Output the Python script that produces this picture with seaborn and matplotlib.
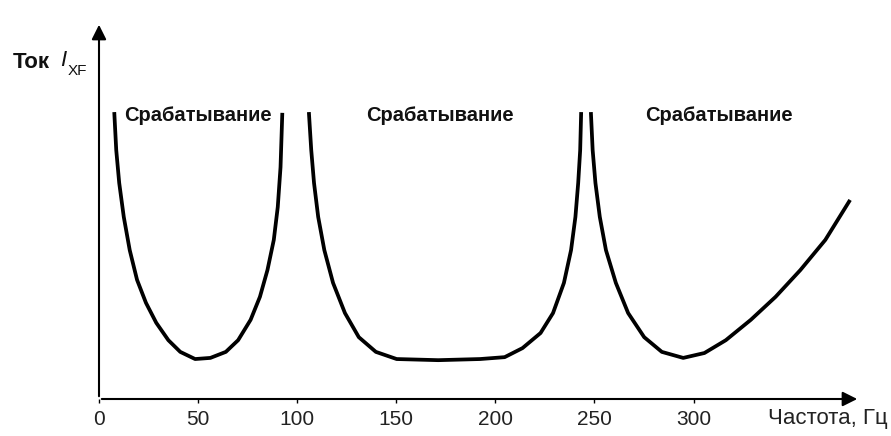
import matplotlib
matplotlib.use('Agg')
import matplotlib.pyplot as plt
import numpy as np
import pandas as pd
import seaborn as sns

# frequency (Hz) and current (arbitrary units, 0..100)
freq_1 = [7.7, 8.7, 10.2, 12.5, 15.5, 19.2, 23.7, 28.9, 35.0, 41.0, 48.5,
          56.2, 64.0, 70.2, 76.5, 81.2, 85.0, 88.2, 90.2, 91.6, 92.5]
curr_1 = [76.1, 66.0, 57.3, 48.3, 39.5, 31.6, 25.5, 20.2, 15.6, 12.5, 10.6,
          10.9, 12.5, 15.6, 21.0, 27.1, 34.2, 42.2, 50.9, 61.5, 75.9]

freq_2 = [105.9, 107.1, 108.5, 110.6, 113.7, 118.1, 124.1, 131.1, 139.7, 150.2, 171.2,
          192.3, 204.7, 213.7, 222.8, 229.1, 234.6, 238.2, 240.4, 241.8, 242.8, 243.3]
curr_2 = [76.1, 66.0, 57.3, 48.3, 39.5, 30.8, 22.8, 16.4, 12.5, 10.6, 10.3,
          10.6, 11.1, 13.5, 17.5, 22.8, 30.8, 39.5, 48.3, 57.3, 66.0, 76.1]

freq_3 = [248.2, 249.1, 250.5, 252.7, 255.8, 260.8, 267.0, 275.1, 284.0,
          294.8, 305.5, 316.3, 328.9, 341.4, 353.9, 366.5, 379.0]
curr_3 = [76.1, 66.0, 57.3, 48.3, 39.5, 30.8, 22.8, 16.4, 12.5,
          10.9, 12.2, 15.6, 21.0, 27.1, 34.2, 42.2, 52.8]

x_ticks = [0, 50, 100, 150, 200, 250, 300]
zone_label = 'Срабатывание'
zone_x = [50, 172, 313]
zone_y = 75.3

frames = []
for name, fx, cy in [('a', freq_1, curr_1), ('b', freq_2, curr_2), ('c', freq_3, curr_3)]:
    frames.append(pd.DataFrame({'freq': fx, 'current': cy, 'curve': name}))
data = pd.concat(frames, ignore_index=True)

sns.set_style('white')
plt.rcParams['font.family'] = ['Liberation Sans', 'DejaVu Sans']

fig = plt.figure(figsize=(8.91, 4.36), dpi=100)
ax = fig.add_axes([99 / 891, 37 / 436, 761 / 891, 377 / 436])

sns.lineplot(data=data, x='freq', y='current', hue='curve',
             palette=['black'] * 3, estimator=None, sort=False,
             linewidth=2.7, legend=False, ax=ax,
             solid_joinstyle='round', solid_capstyle='butt')

ax.set_xlim(0, 384)
ax.set_ylim(0, 100)
for s in ax.spines.values():
    s.set_visible(False)

# axes drawn as arrows
arrow = dict(arrowstyle='-|>', color='black', lw=1.5, mutation_scale=22)
ax.annotate('', xy=(1, 0), xytext=(0, 0), xycoords='axes fraction', arrowprops=arrow)
ax.annotate('', xy=(0, 1), xytext=(0, 0), xycoords='axes fraction', arrowprops=arrow)

ax.set_xticks(x_ticks)
ax.set_xticklabels([str(t) for t in x_ticks])
ax.set_yticks([])
ax.tick_params(axis='x', length=3, width=1, color='black', pad=5,
               labelsize=15, labelcolor='#222222', bottom=True)
ax.set_xlabel('')
ax.set_ylabel('')

for zx in zone_x:
    ax.text(zx, zone_y, zone_label, ha='center', va='center',
            fontsize=14.5, fontweight='bold', color='#111111')

fig.text(888 / 891, 1 - 418 / 436, 'Частота, Гц', ha='right', va='center',
         fontsize=16, color='#222222')
fig.text(13 / 891, 1 - 63 / 436, 'Ток', ha='left', va='center',
         fontsize=16, fontweight='bold', color='#111111')
fig.text(60 / 891, 1 - 61 / 436, 'I', ha='left', va='center',
         fontsize=16, fontstyle='italic', color='#111111')
fig.text(68 / 891, 1 - 71 / 436, 'XF', ha='left', va='center',
         fontsize=11, color='#111111')

fig.savefig('out.png', dpi=100)
